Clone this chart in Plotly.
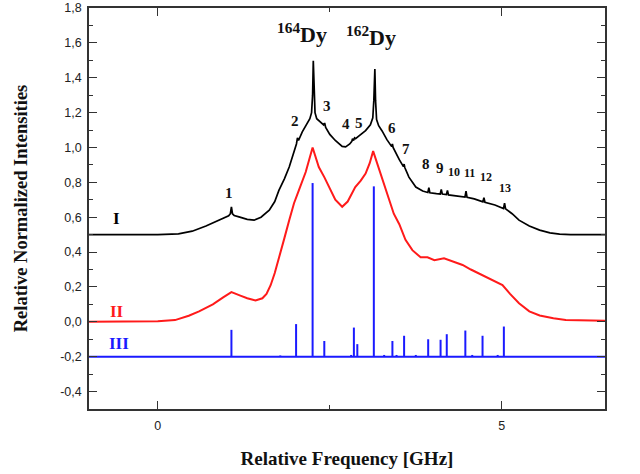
import plotly.graph_objects as go

# ---------------- data ----------------
# Curve I (black), offset spectrum with sharp hyperfine peaks
curve1_x = [-1.0, 0.0, 0.3, 0.5, 0.7, 0.9, 1.03, 1.055, 1.07, 1.085, 1.11, 1.18, 1.3, 1.40,
            1.5, 1.62, 1.70, 1.76, 1.84, 1.91, 1.98, 2.015, 2.03, 2.045, 2.10, 2.17, 2.21,
            2.235, 2.25, 2.26, 2.27, 2.285, 2.31, 2.36, 2.41, 2.425, 2.44, 2.50, 2.58, 2.68,
            2.73, 2.79, 2.82, 2.83, 2.845, 2.86, 2.875, 2.92, 3.02, 3.09, 3.125, 3.14, 3.155,
            3.165, 3.18, 3.21, 3.26, 3.33, 3.40, 3.41, 3.42, 3.51, 3.57, 3.58, 3.59, 3.65,
            3.75, 3.85, 3.925, 3.94, 3.955, 4.05, 4.105, 4.12, 4.135, 4.195, 4.21, 4.225,
            4.35, 4.465, 4.48, 4.495, 4.6, 4.725, 4.74, 4.755, 4.9, 5.025, 5.04, 5.055, 5.15,
            5.25, 5.4, 5.55, 5.7, 5.84, 6.0, 6.5]
curve1_y = [0.5, 0.5, 0.505, 0.52, 0.55, 0.585, 0.608, 0.62, 0.66, 0.62, 0.61, 0.602, 0.588,
            0.583, 0.60, 0.64, 0.69, 0.754, 0.82, 0.888, 0.97, 1.02, 1.055, 1.04, 1.09, 1.135,
            1.165, 1.2, 1.3, 1.497, 1.3, 1.2, 1.165, 1.15, 1.13, 1.14, 1.115, 1.075, 1.04,
            1.006, 1.003, 1.02, 1.035, 1.05, 1.04, 1.055, 1.05, 1.065, 1.097, 1.13, 1.17,
            1.27, 1.45, 1.27, 1.16, 1.125, 1.095, 1.045, 1.005, 1.02, 1.0, 0.93, 0.89, 0.905,
            0.885, 0.83, 0.773, 0.75, 0.742, 0.77, 0.74, 0.735, 0.733, 0.76, 0.733, 0.73,
            0.754, 0.728, 0.722, 0.716, 0.749, 0.714, 0.705, 0.688, 0.712, 0.686, 0.67, 0.65,
            0.68, 0.648, 0.62, 0.583, 0.55, 0.526, 0.51, 0.503, 0.5, 0.5]

# Curve II (red), experimental spectrum
curve2_x = [-1.0, -0.5, 0.0, 0.25, 0.45, 0.6, 0.8, 0.95, 1.07, 1.2, 1.3, 1.42, 1.52, 1.58,
            1.64, 1.7, 1.76, 1.84, 1.91, 1.98, 2.05, 2.15, 2.25, 2.34, 2.42, 2.49, 2.58, 2.68,
            2.76, 2.87, 2.95, 3.02, 3.08, 3.13, 3.22, 3.31, 3.36, 3.43, 3.51, 3.6, 3.7, 3.82,
            3.92, 4.02, 4.16, 4.3, 4.43, 4.55, 4.67, 4.85, 5.01, 5.12, 5.25, 5.4, 5.55, 5.75,
            5.93, 6.5]
curve2_y = [0.0, 0.003, 0.003, 0.01, 0.035, 0.06, 0.1, 0.14, 0.17, 0.15, 0.135, 0.122, 0.135,
            0.16, 0.21, 0.28, 0.373, 0.48, 0.583, 0.68, 0.754, 0.859, 1.0, 0.888, 0.83, 0.773,
            0.70, 0.66, 0.69, 0.773, 0.81, 0.85, 0.91, 0.979, 0.869, 0.754, 0.697, 0.62, 0.56,
            0.47, 0.411, 0.37, 0.37, 0.354, 0.364, 0.345, 0.326, 0.30, 0.278, 0.245, 0.211,
            0.16, 0.107, 0.06, 0.036, 0.02, 0.011, 0.006]

# Curve III (blue), calculated stick spectrum
stick_base = -0.2
stick_x = [1.07, 1.78, 2.01, 2.25, 2.42, 2.81, 2.85, 2.90, 3.14, 3.29, 3.41, 3.47, 3.58,
           3.75, 3.93, 4.11, 4.20, 4.47, 4.57, 4.72, 4.94, 5.03]
stick_top = [-0.046, -0.193, -0.013, 0.796, -0.11, -0.19, -0.033, -0.128, 0.777, -0.19,
             -0.11, -0.19, -0.08, -0.19, -0.10, -0.103, -0.071, -0.05, -0.19, -0.08, -0.19,
             -0.027]

x_range = [-1.0, 6.5]
y_range = [-0.5, 1.8]

y_tick_vals = [-0.4, -0.2, 0.0, 0.2, 0.4, 0.6, 0.8, 1.0, 1.2, 1.4, 1.6, 1.8]
y_tick_text = ["-0,4", "-0,2", "0,0", "0,2", "0,4", "0,6", "0,8", "1,0", "1,2", "1,4", "1,6", "1,8"]
x_tick_vals = [0, 5]
x_tick_text = ["0", "5"]

peak_labels = ["1", "2", "3", "4", "5", "6", "7", "8", "9", "10", "11", "12", "13"]
peak_label_x = [1.03, 1.99, 2.46, 2.74, 2.93, 3.41, 3.61, 3.90, 4.10, 4.31, 4.53, 4.77, 5.05]
peak_label_y = [0.74, 1.15, 1.24, 1.135, 1.141, 1.113, 0.99, 0.903, 0.883, 0.86, 0.852, 0.829, 0.77]

isotope_labels = ["<sup>164</sup>Dy", "<sup>162</sup>Dy"]
isotope_x = [2.09, 3.10]
isotope_y = [1.655, 1.64]

series_labels = ["I", "II", "III"]
series_label_x = [-0.6, -0.59, -0.57]
series_label_y = [0.594, 0.059, -0.122]
series_colors = ["#000000", "#ff1a1a", "#1a1aff"]

# ---------------- figure ----------------
fig = go.Figure()

# blue baseline + sticks
sx, sy = list(x_range), [stick_base, stick_base]
fig.add_trace(go.Scatter(x=sx, y=sy, mode="lines",
                         line=dict(color=series_colors[2], width=2), hoverinfo="skip"))
vx, vy = [], []
for xv, tv in zip(stick_x, stick_top):
    vx += [xv, xv, None]
    vy += [stick_base, tv, None]
fig.add_trace(go.Scatter(x=vx, y=vy, mode="lines",
                         line=dict(color=series_colors[2], width=2), hoverinfo="skip"))

fig.add_trace(go.Scatter(x=curve2_x, y=curve2_y, mode="lines",
                         line=dict(color=series_colors[1], width=2)))
fig.add_trace(go.Scatter(x=curve1_x, y=curve1_y, mode="lines",
                         line=dict(color=series_colors[0], width=1.7)))

for t, xv, yv in zip(peak_labels, peak_label_x, peak_label_y):
    size = 15 if len(t) == 1 else 12
    fig.add_annotation(x=xv, y=yv, text=f"<b>{t}</b>", showarrow=False,
                       font=dict(family="Liberation Serif", size=size, color="#111111"))

for t, xv, yv in zip(isotope_labels, isotope_x, isotope_y):
    fig.add_annotation(x=xv, y=yv, text=f"<b>{t}</b>", showarrow=False,
                       font=dict(family="Liberation Serif", size=22, color="#111111"))

for t, xv, yv, c in zip(series_labels, series_label_x, series_label_y, series_colors):
    fig.add_annotation(x=xv, y=yv, text=f"<b>{t}</b>", showarrow=False,
                       font=dict(family="Liberation Serif", size=17, color=c))

axis_common = dict(showline=True, linecolor="#333333", linewidth=1.5, mirror="allticks",
                   ticks="inside", ticklen=8, tickwidth=1.2, tickcolor="#333333",
                   showgrid=False, zeroline=False, automargin=False,
                   tickfont=dict(family="Liberation Sans", size=12.5, color="#222222"))

fig.update_xaxes(range=x_range, tickvals=x_tick_vals, ticktext=x_tick_text,
                 ticklabelstandoff=4,
                 minor=dict(ticks="inside", ticklen=4, tickvals=[2.5], tickcolor="#333333"),
                 title=dict(text="<b>Relative Frequency [GHz]</b>", standoff=20,
                            font=dict(family="Liberation Serif", size=19, color="#111111")),
                 **axis_common)
fig.update_yaxes(range=y_range, tickvals=y_tick_vals, ticktext=y_tick_text,
                 ticklabelstandoff=3,
                 minor=dict(ticks="inside", ticklen=4, dtick=0.1, tick0=0, tickcolor="#333333"),
                 title=dict(text="<b>Relative Normalized Intensities</b>", standoff=28,
                            font=dict(family="Liberation Serif", size=18.5, color="#111111")),
                 **axis_common)

fig.update_layout(width=640, height=474, showlegend=False,
                  margin=dict(l=89, r=35, t=8, b=65),
                  plot_bgcolor="white", paper_bgcolor="white")

# remove the browser's default 8px page margin so the figure sits at (0, 0)
fig.write_html("out.html", config={"displayModeBar": False},
               post_script="document.body.style.margin='0';document.body.style.overflow='hidden';")
